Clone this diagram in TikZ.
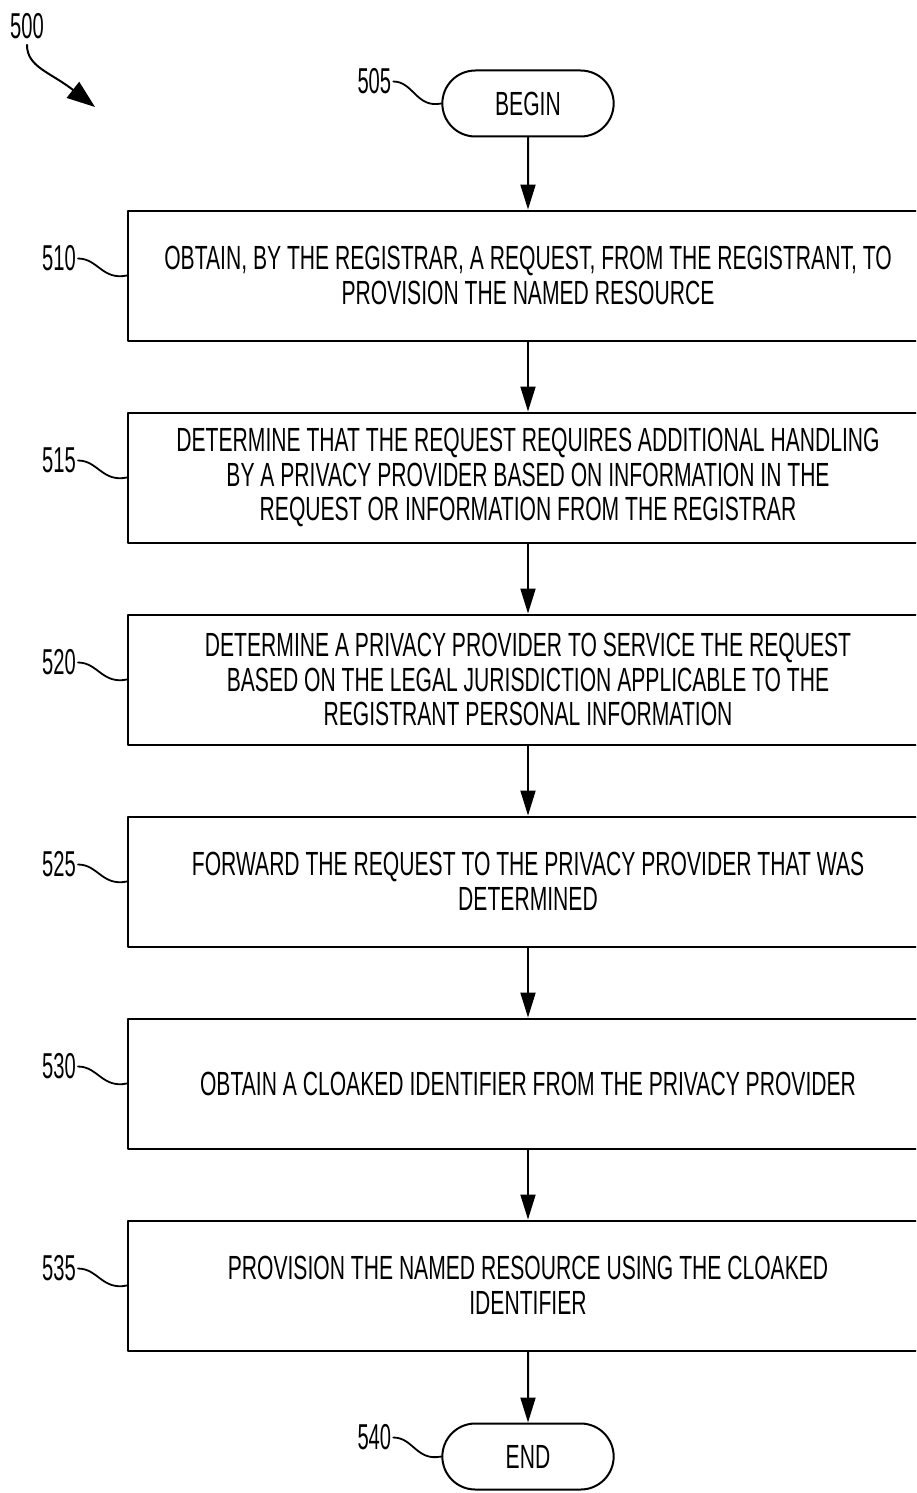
\documentclass[tikz,border=0pt]{standalone}
\usepackage{fontspec}
\setmainfont{Liberation Sans}[FakeStretch=0.63]
\newfontfamily\numfont{Liberation Sans}[FakeStretch=0.56]
\usetikzlibrary{positioning,arrows.meta,shapes.misc}
\begin{document}
\begin{tikzpicture}[x=1pt, y=-1pt, line join=round, line cap=round,
    >={Triangle[length=25pt,width=15pt]},
    stepbox/.style={draw, line width=2pt, minimum width=800pt, minimum height=130pt,
        align=center, inner sep=0pt, font=\fontsize{33.5}{34.5}\selectfont},
    termbox/.style={draw, line width=2pt, rounded rectangle, minimum width=178pt,
        minimum height=66pt, font=\fontsize{33.5}{34.5}\selectfont},
    reflabel/.style={anchor=east, inner sep=2pt, font=\numfont\fontsize{36}{36}\selectfont},
    flow/.style={->, line width=2pt},
    lead/.style={line width=1.8pt},
    node distance=70pt]
    \useasboundingbox (0,0) rectangle (916,1493);
    \clip (0,0) rectangle (916,1493);
    % terminals and steps
    \node[termbox] (begin) at (528,103.5) {BEGIN};
    \node[stepbox, below=72pt of begin] (b510) {OBTAIN, BY THE REGISTRAR, A REQUEST, FROM THE REGISTRANT, TO\\PROVISION THE NAMED RESOURCE};
    \node[stepbox, below=of b510] (b515) {DETERMINE THAT THE REQUEST REQUIRES ADDITIONAL HANDLING\\BY A PRIVACY PROVIDER BASED ON INFORMATION IN THE\\REQUEST OR INFORMATION FROM THE REGISTRAR};
    \node[stepbox, below=of b515] (b520) {DETERMINE A PRIVACY PROVIDER TO SERVICE THE REQUEST\\BASED ON THE LEGAL JURISDICTION APPLICABLE TO THE\\REGISTRANT PERSONAL INFORMATION};
    \node[stepbox, below=of b520] (b525) {FORWARD THE REQUEST TO THE PRIVACY PROVIDER THAT WAS\\DETERMINED};
    \node[stepbox, below=of b525] (b530) {OBTAIN A CLOAKED IDENTIFIER FROM THE PRIVACY PROVIDER};
    \node[stepbox, below=of b530] (b535) {PROVISION THE NAMED RESOURCE USING THE CLOAKED\\IDENTIFIER};
    \node[termbox, below=71pt of b535] (end) {END};
    % flow arrows
    \draw[flow] (begin) -- (b510);
    \draw[flow] (b510) -- (b515);
    \draw[flow] (b515) -- (b520);
    \draw[flow] (b520) -- (b525);
    \draw[flow] (b525) -- (b530);
    \draw[flow] (b530) -- (b535);
    \draw[flow] (b535) -- (end);
    % reference numerals
    \node[reflabel] (l505) at ([xshift=-48pt,yshift=22pt]begin.west) {505};
    \node[reflabel] (l540) at ([xshift=-48pt,yshift=19pt]end.west) {540};
    \foreach \n in {510,515,520,525,530,535}
        \node[reflabel] (l\n) at ([xshift=-49pt,yshift=17pt]b\n.west) {\n};
    \draw[lead] (l505.east) .. controls +(20,0) and +(-25,5) .. (begin.west);
    \draw[lead] (l540.east) .. controls +(20,0) and +(-25,5) .. (end.west);
    \foreach \n in {510,515,520,525,530,535}
        \draw[lead] (l\n.east) .. controls +(20,0) and +(-25,5) .. (b\n.west);
    % figure numeral
    \node[font=\numfont\fontsize{36}{36}\selectfont, inner sep=0pt] (l500) at (27,26) {500};
    \coordinate (p500) at (95,107);
    \draw[line width=2pt, -{Triangle[length=28pt,width=20pt]}] ([yshift=-6pt]l500.south) .. controls +(0,22) and (50,72) .. (p500);
\end{tikzpicture}
\end{document}
